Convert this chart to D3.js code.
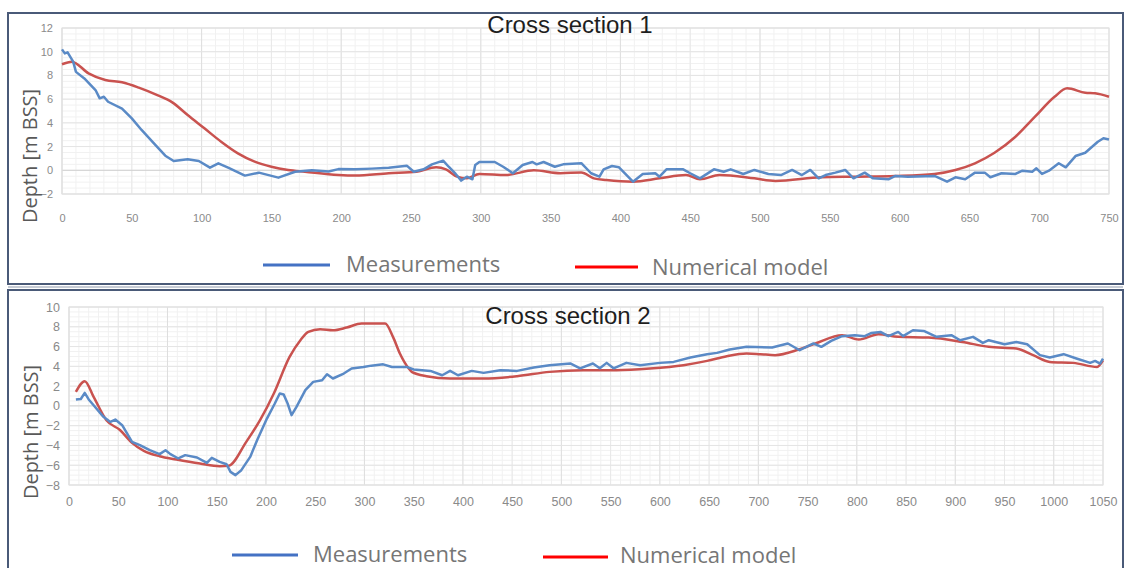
<!DOCTYPE html>
<html>
<head>
<meta charset="utf-8">
<script src="https://cdn.jsdelivr.net/npm/d3@7"></script>
<style>
  body { margin: 0; background: #fff; }
  svg { display: block; }
</style>
</head>
<body>
<div id="chart"></div>
<script>
// cross section 1 : [distance, depth]
var measured1 = [[0,10.2],[2,9.86],[4,9.95],[8,9.16],[10,8.3],[16,7.75],[24,6.77],[27,6.07],[30,6.2],[33,5.78],[43,5.2],[50,4.38],[57,3.4],[67,2.13],[74,1.23],[80,0.78],[90,0.93],[98,0.78],[106,0.22],[112,0.59],[119,0.22],[131,-0.45],[141,-0.2],[155,-0.62],[167,-0.12],[179,0],[191,-0.1],[198,0.1],[210,0.08],[222,0.14],[234,0.22],[247,0.39],[252,-0.12],[259,0.08],[265,0.5],[273,0.81],[277,0.3],[282,-0.31],[286,-0.87],[290,-0.54],[294,-0.76],[296,0.45],[299,0.7],[310,0.7],[316,0.3],[323,-0.25],[330,0.45],[337,0.7],[340,0.5],[345,0.7],[353,0.3],[359,0.5],[372,0.6],[379,-0.25],[385,-0.54],[388,0.08],[394,0.36],[399,0.25],[409,-0.96],[416,-0.31],[425,-0.25],[428,-0.54],[433,0.08],[445,0.08],[450,-0.25],[457,-0.68],[467,0.08],[474,-0.12],[479,0.08],[488,-0.31],[496,0.03],[506,-0.31],[515,-0.4],[523,0.03],[530,-0.4],[536,0.03],[542,-0.68],[547,-0.4],[554,-0.2],[561,0.03],[567,-0.68],[575,-0.2],[581,-0.68],[592,-0.76],[597,-0.48],[606,-0.54],[625,-0.48],[634,-0.96],[640,-0.59],[647,-0.76],[654,-0.2],[661,-0.2],[665,-0.59],[673,-0.25],[683,-0.31],[688,-0.03],[695,-0.12],[698,0.17],[702,-0.31],[707,-0.03],[714,0.59],[719,0.25],[726,1.2],[733,1.48],[742,2.41],[746,2.7],[750,2.6]];
var model1 = [[0,8.94],[7,9.16],[19,8.18],[31,7.61],[43,7.42],[55,6.97],[67,6.4],[79,5.73],[90,4.66],[102,3.54],[114,2.41],[126,1.43],[138,0.73],[150,0.3],[162,0.03],[174,-0.12],[198,-0.4],[210,-0.45],[234,-0.25],[254,-0.12],[268,0.25],[275,0.08],[283,-0.54],[290,-0.68],[299,-0.31],[318,-0.4],[338,0],[357,-0.25],[372,-0.18],[381,-0.68],[390,-0.82],[409,-0.96],[428,-0.68],[447,-0.4],[457,-0.76],[471,-0.4],[496,-0.68],[511,-0.9],[544,-0.59],[568,-0.54],[597,-0.48],[625,-0.31],[640,0.03],[654,0.59],[668,1.48],[683,2.83],[697,4.52],[711,6.2],[720,6.91],[733,6.54],[740,6.49],[750,6.2]];

// cross section 2 : [distance, depth]
var measured2 = [[7,0.65],[12,0.7],[16,1.31],[20,0.65],[25,0.07],[35,-1.11],[42,-1.62],[47,-1.38],[54,-1.95],[64,-3.64],[72,-3.97],[82,-4.48],[92,-4.88],[98,-4.48],[103,-4.88],[111,-5.32],[118,-4.98],[130,-5.22],[140,-5.76],[145,-5.25],[153,-5.66],[160,-5.9],[164,-6.67],[169,-7.0],[175,-6.5],[184,-5.16],[191,-3.47],[201,-1.28],[209,0.24],[214,1.25],[218,1.15],[222,0.24],[226,-0.94],[231,-0.1],[240,1.59],[248,2.43],[257,2.6],[262,3.2],[268,2.77],[279,3.27],[287,3.78],[299,3.94],[307,4.07],[319,4.2],[328,3.94],[343,3.94],[350,3.68],[367,3.54],[379,3.1],[387,3.54],[395,3.1],[409,3.54],[421,3.34],[438,3.61],[455,3.54],[472,3.88],[488,4.12],[509,4.29],[519,3.8],[532,4.29],[539,3.8],[546,4.35],[553,3.8],[566,4.35],[580,4.12],[600,4.35],[614,4.45],[631,4.89],[648,5.23],[658,5.36],[671,5.7],[688,5.97],[714,5.9],[730,6.31],[742,5.63],[756,6.31],[764,5.97],[774,6.57],[785,7.05],[798,7.15],[808,7.05],[815,7.38],[824,7.48],[832,7.05],[842,7.48],[847,7.05],[857,7.65],[868,7.58],[881,6.98],[896,7.15],[905,6.64],[918,6.98],[928,6.37],[934,6.64],[950,6.24],[962,6.47],[973,6.24],[986,5.13],[996,4.89],[1010,5.23],[1023,4.79],[1037,4.35],[1042,4.55],[1047,4.28],[1050,4.79]];
var model2 = [[7,1.42],[16,2.5],[25,0.91],[38,-1.45],[52,-2.46],[64,-3.74],[76,-4.55],[92,-5.09],[109,-5.42],[133,-5.83],[153,-6.1],[162,-6.06],[180,-3.64],[194,-1.45],[208,1.25],[224,4.95],[235,6.64],[243,7.48],[255,7.75],[268,7.65],[282,7.92],[297,8.33],[321,8.33],[329,6.98],[336,5.3],[345,3.78],[348,3.44],[363,3.0],[387,2.77],[421,2.77],[455,3.0],[488,3.44],[522,3.61],[556,3.61],[590,3.78],[624,4.12],[648,4.55],[668,5.03],[688,5.3],[702,5.23],[717,5.13],[741,5.7],[758,6.31],[785,7.15],[802,6.71],[822,7.25],[842,6.98],[873,6.91],[907,6.47],[934,5.97],[962,5.8],[979,5.13],[996,4.45],[1020,4.35],[1044,3.94],[1050,4.6]];

var xTicks1 = d3.range(0, 751, 50),  yTicks1 = d3.range(-2, 13, 2);
var xTicks2 = d3.range(0, 1051, 50), yTicks2 = d3.range(-8, 11, 2);
var titles = ["Cross section 1", "Cross section 2"];
var seriesNames = ["Measurements", "Numerical model"];
var yTitle = "Depth [m BSS]";

var blue = "#5a8ac6", red = "#c9524f";

var svg = d3.select("#chart").append("svg")
    .attr("width", 1126)
    .attr("height", 568);

// panel frames
svg.append("rect")
    .attr("x", 8).attr("y", 13).attr("width", 1115).attr("height", 271)
    .style("fill", "none").style("stroke", "#4a5a78").style("stroke-width", 2);
svg.append("line")
    .attr("x1", 8).attr("x2", 1123).attr("y1", 287).attr("y2", 287)
    .style("stroke", "#8c97ab").style("stroke-width", 1);
svg.append("rect")
    .attr("x", 8).attr("y", 290).attr("width", 1115).attr("height", 300)
    .style("fill", "none").style("stroke", "#4a5a78").style("stroke-width", 2);

function drawPanel(o) {
  var x = d3.scaleLinear().domain(o.xDomain).range([o.left, o.right]);
  var y = d3.scaleLinear().domain(o.yDomain).range([o.bottom, o.top]);
  var g = svg.append("g");

  // minor grid
  g.selectAll(".vmin").data(d3.range(o.xDomain[0], o.xDomain[1] + 1, 10)).enter()
    .append("line")
      .attr("x1", function(d) { return x(d); }).attr("x2", function(d) { return x(d); })
      .attr("y1", o.top).attr("y2", o.bottom)
      .style("stroke", "#f1f1f1");
  g.selectAll(".hmin").data(d3.range(o.yDomain[0], o.yDomain[1] + 0.01, 0.5)).enter()
    .append("line")
      .attr("x1", o.left).attr("x2", o.right)
      .attr("y1", function(d) { return y(d); }).attr("y2", function(d) { return y(d); })
      .style("stroke", "#f1f1f1");

  // major grid
  g.selectAll(".vmaj").data(o.xTicks).enter()
    .append("line")
      .attr("x1", function(d) { return x(d); }).attr("x2", function(d) { return x(d); })
      .attr("y1", o.top).attr("y2", o.bottom)
      .style("stroke", function(d) { return d % 100 == 0 ? "#dedede" : "#e8e8e8"; });
  g.selectAll(".hmaj").data(o.yTicks).enter()
    .append("line")
      .attr("x1", o.left).attr("x2", o.right)
      .attr("y1", function(d) { return y(d); }).attr("y2", function(d) { return y(d); })
      .style("stroke", function(d) { return d == 0 ? "#cfcfcf" : "#e4e4e4"; });

  g.append("rect")
    .attr("x", o.left).attr("y", o.top)
    .attr("width", o.right - o.left).attr("height", o.bottom - o.top)
    .style("fill", "none").style("stroke", "#e0e0e0");

  // axes, no domain line
  var xAxis = g.append("g")
      .attr("transform", "translate(0," + o.bottom + ")")
      .call(d3.axisBottom(x).tickValues(o.xTicks).tickFormat(d3.format("d"))
        .tickSize(0).tickPadding(o.xPad));
  var yAxis = g.append("g")
      .attr("transform", "translate(" + o.left + ",0)")
      .call(d3.axisLeft(y).tickValues(o.yTicks).tickFormat(d3.format("d"))
        .tickSize(0).tickPadding(o.yPad));
  [xAxis, yAxis].forEach(function(a) {
    a.select(".domain").remove();
    a.selectAll("text")
      .style("font-family", "Liberation Sans, Arial, sans-serif")
      .style("font-size", o.tickSize + "px")
      .style("fill", "#8a8a8a");
  });

  var line = d3.line()
      .x(function(d) { return x(d[0]); })
      .y(function(d) { return y(d[1]); });

  g.append("path").datum(o.model)
    .attr("d", line.curve(d3.curveMonotoneX))
    .style("fill", "none").style("stroke", red).style("stroke-width", 2.5)
    .style("stroke-linejoin", "round");
  g.append("path").datum(o.measured)
    .attr("d", line.curve(d3.curveLinear))
    .style("fill", "none").style("stroke", blue).style("stroke-width", 2.5)
    .style("stroke-linejoin", "round");

  // title
  svg.append("text")
    .attr("x", o.titleX).attr("y", o.titleY)
    .attr("text-anchor", "middle")
    .text(o.title)
    .style("font-family", "Liberation Sans, Arial, sans-serif")
    .style("font-size", "24px")
    .style("fill", "#1e1e1e");

  svg.append("text")
    .attr("transform", "translate(" + o.yTitleX + "," + o.yTitleY + ") rotate(-90)")
    .attr("text-anchor", "middle")
    .text(yTitle)
    .style("font-family", "Open Sans, sans-serif")
    .style("font-size", "20px")
    .style("fill", "#595959");

  // legend
  o.legend.forEach(function(l, i) {
    svg.append("line")
      .attr("x1", l.x1).attr("x2", l.x2).attr("y1", l.y).attr("y2", l.y)
      .style("stroke", i == 0 ? "#4472c4" : "#ff0000").style("stroke-width", 3);
    svg.append("text")
      .attr("x", l.tx).attr("y", l.ty)
      .text(seriesNames[i])
      .style("font-family", "Open Sans, sans-serif")
      .style("font-size", "22px")
      .style("fill", "#767676");
  });
}

drawPanel({
  measured: measured1, model: model1, title: titles[0],
  xDomain: [0, 750], yDomain: [-2, 12], xTicks: xTicks1, yTicks: yTicks1,
  left: 62, right: 1109, top: 28, bottom: 194,
  xPad: 20, yPad: 9, tickSize: 11,
  titleX: 570, titleY: 33, yTitleX: 37, yTitleY: 156,
  legend: [{x1: 263, x2: 330, y: 265, tx: 346, ty: 272},
           {x1: 575, x2: 638, y: 267, tx: 652, ty: 275}]
});

drawPanel({
  measured: measured2, model: model2, title: titles[1],
  xDomain: [0, 1050], yDomain: [-8, 10], xTicks: xTicks2, yTicks: yTicks2,
  left: 69, right: 1103, top: 307, bottom: 485,
  xPad: 12, yPad: 9, tickSize: 12.5,
  titleX: 568, titleY: 324, yTitleX: 38, yTitleY: 432,
  legend: [{x1: 232, x2: 298, y: 555, tx: 313, ty: 562},
           {x1: 543, x2: 608, y: 557, tx: 620, ty: 563}]
});
</script>
</body>
</html>
